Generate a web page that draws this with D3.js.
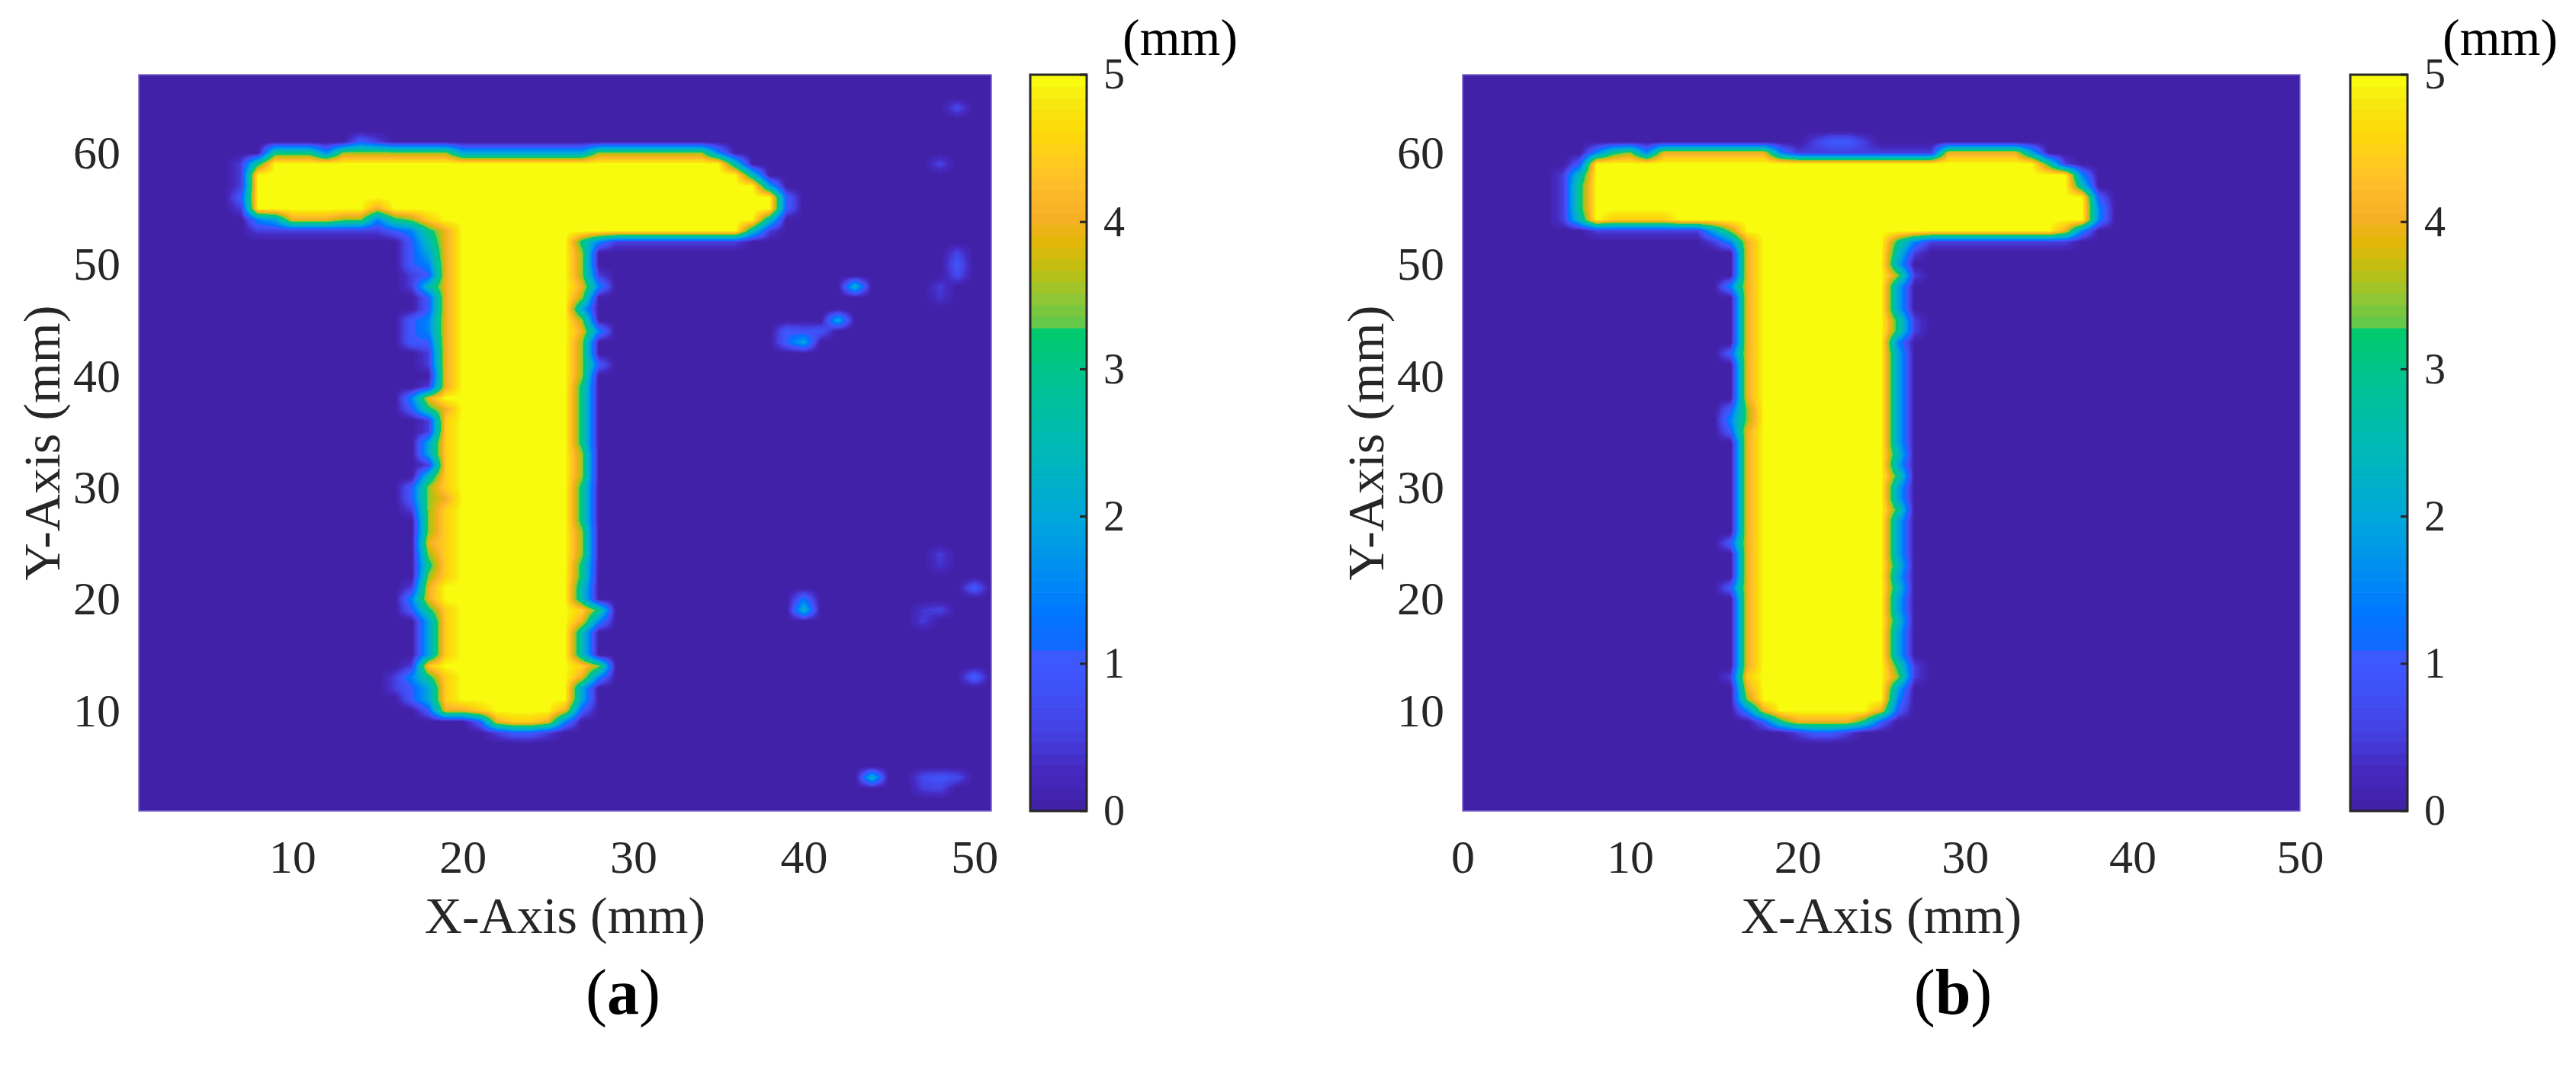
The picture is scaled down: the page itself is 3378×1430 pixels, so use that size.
<!DOCTYPE html>
<html>
<head>
<meta charset="utf-8">
<script src="https://cdn.jsdelivr.net/npm/d3@7"></script>
<style>
  body { margin: 0; background: #fff; }
  text { font-family: "Liberation Serif", "Times New Roman", serif; }
</style>
</head>
<body>
<svg id="fig"></svg>
<script>
const A = n => "a".repeat(n)

// axes
const xDomainA = [1, 51]
const xDomainB = [0, 50]
const yDomain = [1, 67]
const xTicksA = [10, 20, 30, 40, 50]
const xTicksB = [0, 10, 20, 30, 40, 50]
const yTicks = [10, 20, 30, 40, 50, 60]
const cbTicks = [0, 1, 2, 3, 4, 5]

// depth rows: [y, first x, levels]; each char is hex, depth = hex / 2 (mm)
const rowsA = [
  [61, 14, "21"],
  [60, 9, "6663" + "7777777" + "44444444" + "7777777" + "3"],
  [59, 7, "16" + A(27) + "5"],
  [58, 7, "1" + A(29) + "5"],
  [57, 7, "1" + A(30) + "4"],
  [56, 7, "2" + A(31) + "2"],
  [55, 7, "1" + A(7) + "8" + A(23) + "2"],
  [54, 8, "34888773679" + A(19) + "5"],
  [53, 8, "1111111" + "12" + "368" + A(17) + "51"],
  [52, 17, "258" + A(7) + "63" + "11111111"],
  [51, 16, "0248aaaaaaa70"], [50, 16, "0238aaaaaaa70"], [49, 16, "0128aaaaaaa71"],
  [48, 16, "0158aaaaaaa83"], [47, 16, "0028aaaaaaa70"], [46, 16, "0028aaaaaaa40"],
  [45, 16, "0238aaaaaaa70"], [44, 16, "0238aaaaaaa83"], [43, 16, "0228aaaaaaa70"],
  [42, 16, "0018aaaaaaa70"], [41, 16, "0018aaaaaaa72"], [40, 16, "0008aaaaaaa70"],
  [39, 16, "0018aaaaaaa60"], [38, 16, "038aaaaaaaa60"], [37, 16, "0268aaaaaaa60"],
  [36, 16, "0019aaaaaaa60"], [35, 16, "0019aaaaaaa60"], [34, 16, "0049aaaaaaa60"],
  [33, 16, "0049aaaaaaa70"], [32, 16, "0019aaaaaaa70"], [31, 16, "0059aaaaaaa70"],
  [30, 16, "0279aaaaaaa60"], [29, 16, "0278aaaaaaa60"], [28, 16, "0179aaaaaaa60"],
  [27, 16, "0079aaaaaaa60"], [26, 16, "0079aaaaaaa70"], [25, 16, "0089aaaaaaa70"],
  [24, 16, "0079aaaaaaa70"], [23, 16, "0069aaaaaaa60"], [22, 16, "0079aaaaaaa60"],
  [21, 16, "018aaaaaaaa50"], [20, 16, "038aaaaaaaa50"], [19, 16, "0269aaaaaaa96"],
  [18, 16, "0049aaaaaaa83"], [17, 16, "0049aaaaaaa50"], [16, 16, "0049aaaaaaa50"],
  [15, 16, "0049aaaaaaa50"], [14, 16, "019aaaaaaaa97"], [13, 16, "1369aaaaaaa83"],
  [12, 16, "1249aaaaaaa40"], [11, 16, "0249aaaaaaa40"],
  [10, 16, "002889aaaa820"],
  [9, 16, "0000028998300"],
  [8, 16, "0000001221000"]
]

// isolated noise in (a): [x, y, depth]
const spotsA = [
  [49, 64, 0.7], [48, 59, 0.6], [49, 51, 0.6], [49, 50, 0.9], [49, 49, 0.7], [48, 48, 0.5], [48, 47, 0.4],
  [43, 48, 2.3], [42, 45, 2.1], [40, 43, 2.0], [39, 43, 1.1], [40, 44, 0.8], [41, 44, 0.9], [39, 44, 1.0],
  [40, 19, 2.3], [40, 20, 1.3], [50, 21, 1.0], [48, 19, 0.6], [47, 18, 0.5], [48, 24, 0.5], [48, 23, 0.4],
  [47, 19, 0.4], [50, 13, 1.1], [44, 4, 2.3], [47, 4, 0.7], [48, 4, 0.9], [49, 4, 0.7], [47, 3, 0.5], [48, 3, 0.6]
]

const rowsB = [
  [61, 21, "1221"],
  [60, 8, "3673" + "8888888" + "3" + "111111111" + "88888" + "4"],
  [59, 7, "2" + A(27) + "61"],
  [58, 6, "15" + A(29) + "3"],
  [57, 6, "16" + A(29) + "5"],
  [56, 6, "16" + A(30) + "2"],
  [55, 6, "16" + A(30) + "3"],
  [54, 6, "15" + "a9999" + A(25) + "3"],
  [53, 8, "1111111" + "47" + A(19) + "83"],
  [52, 15, "138" + A(8) + "63" + "111111111"],
  [51, 15, "008aaaaaaaa51"], [50, 15, "008aaaaaaaa40"], [49, 15, "008aaaaaaaa71"],
  [48, 15, "038aaaaaaaa40"], [47, 15, "008aaaaaaaa40"], [46, 15, "008aaaaaaaa40"],
  [45, 15, "008aaaaaaaa61"], [44, 15, "008aaaaaaaa61"], [43, 15, "008aaaaaaaa30"],
  [42, 15, "028aaaaaaaa40"], [41, 15, "008aaaaaaaa40"], [40, 15, "008aaaaaaaa40"],
  [39, 15, "008aaaaaaaa40"], [38, 15, "008aaaaaaaa40"], [37, 15, "027aaaaaaaa40"],
  [36, 15, "037aaaaaaaa40"], [35, 15, "028aaaaaaaa40"], [34, 15, "008aaaaaaaa40"],
  [33, 15, "008aaaaaaaa50"], [32, 15, "008aaaaaaaa40"], [31, 15, "008aaaaaaaa60"],
  [30, 15, "008aaaaaaaa40"], [29, 15, "008aaaaaaaa40"], [28, 15, "008aaaaaaaa60"],
  [27, 15, "008aaaaaaaa40"], [26, 15, "008aaaaaaaa40"], [25, 15, "028aaaaaaaa40"],
  [24, 15, "008aaaaaaaa40"], [23, 15, "008aaaaaaaa50"], [22, 15, "008aaaaaaaa40"],
  [21, 15, "028aaaaaaaa50"], [20, 15, "008aaaaaaaa40"], [19, 15, "008aaaaaaaa40"],
  [18, 15, "008aaaaaaaa50"], [17, 15, "008aaaaaaaa40"], [16, 15, "008aaaaaaaa40"],
  [15, 15, "008aaaaaaaa40"], [14, 15, "008aaaaaaaa61"], [13, 15, "019aaaaaaaa71"],
  [12, 15, "008aaaaaaaa40"], [11, 15, "007aaaaaaaa30"],
  [10, 15, "0038aaaaaa820"],
  [9, 18, "26888862"],
  [8, 20, "1221"]
]
const spotsB = []

// colormap
const cmapStops = [
  [0.00, "#4221a9"], [0.25, "#4529c0"], [0.50, "#4540e2"], [0.80, "#3f52f8"],
  [1.08, "#3b5bff"], [1.10, "#1169ff"], [1.35, "#0078ff"], [1.60, "#008df2"],
  [2.00, "#00a8da"], [2.50, "#00bab4"], [3.00, "#00c48c"], [3.28, "#00cb6a"],
  [3.30, "#5ec84c"], [3.50, "#90c635"], [3.70, "#c0bf12"], [3.90, "#e4b70a"],
  [4.05, "#f6b024"], [4.25, "#fdbb2b"], [4.45, "#fecb1e"], [4.65, "#fdda08"],
  [4.85, "#f8e910"], [5.00, "#f9fb0e"]
]

const W = 3378, H = 1430
const plotTop = 98, plotBottom = 1064
const ink = "#262626"

const svg = d3.select("#fig").attr("width", W).attr("height", H)
svg.append("rect").attr("width", W).attr("height", H).attr("fill", "#fff")

const cscale = d3.scaleLinear()
  .domain(cmapStops.map(d => d[0]))
  .range(cmapStops.map(d => d[1]))
  .interpolate(d3.interpolateRgb)
const nColors = 64
const lut = d3.range(nColors).map(k => d3.rgb(cscale(k / (nColors - 1) * 5)))
const level = v => Math.max(0, Math.min(nColors - 1, Math.floor(v / 5 * nColors)))

function buildGrid(rows, spots, xMin) {
  const g = d3.range(68).map(() => new Float32Array(51))
  rows.forEach(([yy, xs, s]) => {
    for (let i = 0; i < s.length; i++) g[yy][xs + i - xMin] = parseInt(s[i], 16) / 2
  })
  spots.forEach(([xx, yy, v]) => {
    g[yy][xx - xMin] = Math.max(g[yy][xx - xMin], v)
  })
  return g
}

// interpolated shading between grid nodes
function bilinear(g, gx, gy) {
  const i = Math.max(0, Math.min(49, Math.floor(gx)))
  const j = Math.max(1, Math.min(66, Math.floor(gy)))
  const tx = Math.max(0, Math.min(1, gx - i)), ty = Math.max(0, Math.min(1, gy - j))
  const a = g[j][i], b = g[j][i + 1], c = g[j + 1][i], d = g[j + 1][i + 1]
  return (a * (1 - tx) + b * tx) * (1 - ty) + (c * (1 - tx) + d * tx) * ty
}

const panels = [
  { rows: rowsA, spots: spotsA, xDomain: xDomainA, xTicks: xTicksA,
    left: 182, right: 1300, cbLeft: 1351, cbRight: 1425, cap: "a", capX: 817 },
  { rows: rowsB, spots: spotsB, xDomain: xDomainB, xTicks: xTicksB,
    left: 1918, right: 3016, cbLeft: 3082, cbRight: 3157, cap: "b", capX: 2561 }
]

panels.forEach(drawPanel)

function drawPanel(p) {
  const g = svg.append("g")
  const x = d3.scaleLinear().domain(p.xDomain).range([p.left, p.right])
  const y = d3.scaleLinear().domain(yDomain).range([plotBottom, plotTop])
  const grid = buildGrid(p.rows, p.spots, p.xDomain[0])

  // raster of the surface
  const w = Math.round(p.right - p.left), h = plotBottom - plotTop
  const canvas = document.createElement("canvas")
  canvas.width = w
  canvas.height = h
  const ctx = canvas.getContext("2d")
  const img = ctx.createImageData(w, h)
  for (let py = 0; py < h; py++) {
    const gy = y.invert(plotTop + py + 0.5)
    for (let px = 0; px < w; px++) {
      const gx = x.invert(p.left + px + 0.5) - p.xDomain[0]
      const c = lut[level(bilinear(grid, gx, gy))]
      const o = (py * w + px) * 4
      img.data[o] = c.r
      img.data[o + 1] = c.g
      img.data[o + 2] = c.b
      img.data[o + 3] = 255
    }
  }
  ctx.putImageData(img, 0, 0)
  g.append("image")
    .attr("x", p.left).attr("y", plotTop)
    .attr("width", w).attr("height", h)
    .attr("preserveAspectRatio", "none")
    .attr("href", canvas.toDataURL())
  g.append("rect")
    .attr("x", p.left).attr("y", plotTop)
    .attr("width", w).attr("height", h)
    .attr("fill", "none").attr("stroke", "#7b68cc").attr("stroke-width", 1.5)

  // axes, labels only
  const xAxis = g.append("g")
    .attr("transform", "translate(0," + plotBottom + ")")
    .call(d3.axisBottom(x).tickValues(p.xTicks).tickSize(0).tickPadding(37))
  const yAxis = g.append("g")
    .attr("transform", "translate(" + p.left + ",0)")
    .call(d3.axisLeft(y).tickValues(yTicks).tickSize(0).tickPadding(24))
  ;[xAxis, yAxis].forEach(a => {
    a.select(".domain").remove()
    a.attr("font-family", null).attr("font-size", 62)
    a.selectAll("text").attr("fill", ink)
  })

  g.append("text")
    .attr("x", (p.left + p.right) / 2).attr("y", 1224)
    .attr("text-anchor", "middle").attr("font-size", 68).attr("fill", ink)
    .text("X-Axis (mm)")
  g.append("text")
    .attr("transform", "translate(" + (p.left - 104) + "," + (plotTop + plotBottom) / 2 + ") rotate(-90)")
    .attr("text-anchor", "middle").attr("font-size", 68).attr("fill", ink)
    .text("Y-Axis (mm)")

  // colorbar
  const cy = d3.scaleLinear().domain([0, 5]).range([plotBottom, plotTop])
  const cb = g.append("g")
  cb.selectAll("rect.band")
    .data(d3.range(nColors))
    .join("rect")
    .attr("class", "band")
    .attr("x", p.cbLeft)
    .attr("width", p.cbRight - p.cbLeft)
    .attr("y", k => cy((k + 1) * 5 / nColors))
    .attr("height", k => cy(k * 5 / nColors) - cy((k + 1) * 5 / nColors) + 0.6)
    .attr("fill", k => lut[k])
  cb.selectAll("line.tick")
    .data(cbTicks)
    .join("line")
    .attr("class", "tick")
    .attr("x1", p.cbRight - 9).attr("x2", p.cbRight)
    .attr("y1", d => cy(d)).attr("y2", d => cy(d))
    .attr("stroke", ink).attr("stroke-width", 3)
  cb.append("rect")
    .attr("x", p.cbLeft).attr("y", plotTop)
    .attr("width", p.cbRight - p.cbLeft).attr("height", plotBottom - plotTop)
    .attr("fill", "none").attr("stroke", ink).attr("stroke-width", 3)
  const cAxis = cb.append("g")
    .attr("transform", "translate(" + p.cbRight + ",0)")
    .call(d3.axisRight(cy).tickValues(cbTicks).tickFormat(d3.format("d")).tickSize(0).tickPadding(22))
  cAxis.select(".domain").remove()
  cAxis.attr("font-family", null).attr("font-size", 56)
  cAxis.selectAll("text").attr("fill", ink)

  g.append("text")
    .attr("x", p.cbLeft + 121).attr("y", 72)
    .attr("font-size", 68).attr("fill", "#000")
    .text("(mm)")

  // caption
  const cap = g.append("text")
    .attr("x", p.capX).attr("y", 1330)
    .attr("text-anchor", "middle").attr("font-size", 84).attr("fill", "#000")
  cap.append("tspan").text("(")
  cap.append("tspan").attr("font-weight", "bold").text(p.cap)
  cap.append("tspan").text(")")
}
</script>
</body>
</html>
